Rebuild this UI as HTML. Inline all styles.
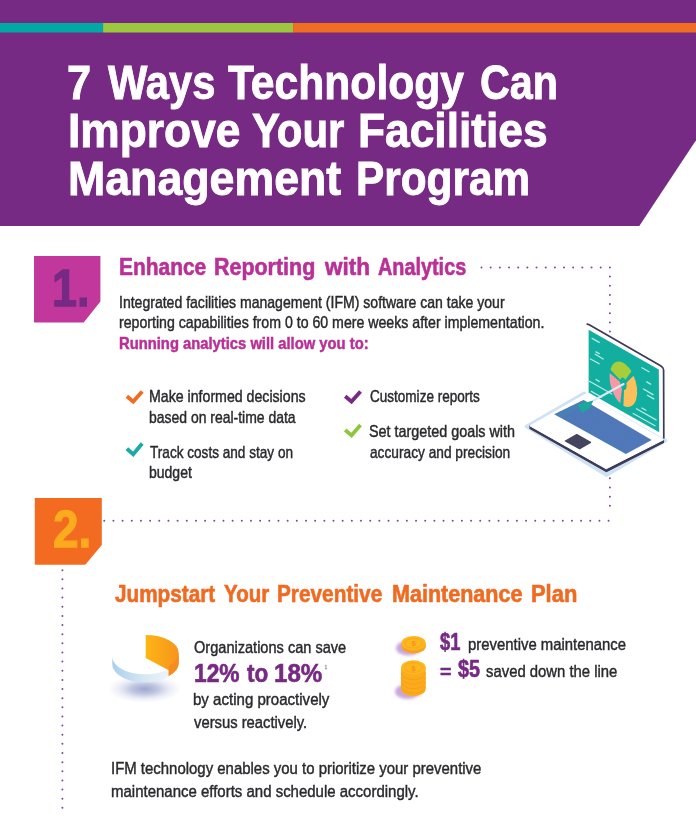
<!DOCTYPE html>
<html lang="en"><head><meta charset="utf-8"><title>7 Ways Technology Can Improve Your Facilities Management Program</title>
<style>
html,body{margin:0;padding:0;background:#fff}
body{width:696px;height:831px;position:relative;overflow:hidden;font-family:"Liberation Sans",sans-serif}
svg.art{position:absolute;left:0;top:0;width:696px;height:831px;display:block}
.t{position:absolute;white-space:nowrap;line-height:1;transform-origin:0 0;display:block}
</style></head><body>
<svg class="art" width="696" height="831" viewBox="0 0 696 831">
<defs>
<filter id="blur5" x="-50%" y="-50%" width="200%" height="200%"><feGaussianBlur stdDeviation="4"/></filter>
<filter id="blur2" x="-50%" y="-50%" width="200%" height="200%"><feGaussianBlur stdDeviation="1.6"/></filter>
<linearGradient id="gOr" x1="0" y1="0" x2="1" y2="0"><stop offset="0" stop-color="#fdb515"/><stop offset="1" stop-color="#f7941d"/></linearGradient>
<linearGradient id="gRim" x1="0" y1="0" x2="1" y2="0"><stop offset="0" stop-color="#a9d0ec"/><stop offset="0.55" stop-color="#d6e6f4"/><stop offset="1" stop-color="#eff4fa"/></linearGradient>
<linearGradient id="gCoin" x1="0" y1="0" x2="1" y2="0"><stop offset="0" stop-color="#fdb51c"/><stop offset="1" stop-color="#f9a51a"/></linearGradient>
<radialGradient id="gSh" cx="0.5" cy="0.5" r="0.5"><stop offset="0" stop-color="#5c6bb0" stop-opacity="0.6"/><stop offset="0.35" stop-color="#6675b6" stop-opacity="0.42"/><stop offset="0.7" stop-color="#7a88c2" stop-opacity="0.14"/><stop offset="1" stop-color="#8a96cc" stop-opacity="0"/></radialGradient>
</defs>
<!-- header -->
<polygon points="0,0 696,0 696,140.2 639.3,226 0,226" fill="#762a83"/>
<rect x="0" y="23" width="103.1" height="9.5" fill="#00a9a4"/>
<rect x="103.1" y="23" width="190" height="9.5" fill="#9bc83c"/>
<rect x="293.1" y="23" width="403" height="9.5" fill="#f06e21"/>
<!-- dotted connectors -->
<g fill="none" stroke="#86469a" stroke-width="2" stroke-linecap="round" stroke-dasharray="0 9.17">
<path d="M481.5,267.4 H609.9 V514"/>
<path d="M608.6,520.7 H104"/>
<path d="M62.4,570.2 V808.5" stroke-dasharray="0 9.14"/>
</g>
<!-- badges -->
<polygon points="34,256 100.4,256 100.4,301.4 83.7,322.4 34,322.4" fill="#c2379b"/>
<polygon points="34.8,498 101.8,498 101.8,545 85.3,564.8 34.8,564.8" fill="#f26b21"/>
<!-- checks -->
<g fill="none" stroke-width="3.8" stroke-linejoin="miter" stroke-miterlimit="6">
<polyline points="126.9,396.2 133.2,401.6 142.2,391.4" stroke="#f26b21"/>
<polyline points="126.9,448.8 133.2,454.2 142.2,443.6" stroke="#1aaba3"/>
<polyline points="345.2,396.2 351.5,401.6 360.5,391.4" stroke="#762a83"/>
<polyline points="345.2,430 351.5,435.4 360.5,425" stroke="#8cc63f"/>
</g>
<!-- LAPTOP -->
<g id="laptop">
<!-- base glow -->
<polygon points="526,426.5 584,393 666,440.5 606.5,475.5" fill="#cfe2f3" stroke="#cfe2f3" stroke-width="3" stroke-linejoin="round"/>
<!-- base dark edge -->
<polygon points="530,428.5 606.2,471.6 663.5,442.5 663.5,440 606.2,467 530,426" fill="#3b3a58" stroke="#3b3a58" stroke-width="1.2" stroke-linejoin="round"/>
<!-- base top -->
<polygon points="530,425.9 585,394.5 663.5,439.8 606.2,468.8" fill="#ffffff" stroke="#ffffff" stroke-width="1" stroke-linejoin="round"/>
<!-- keyboard -->
<polygon points="554.3,414.3 583.6,400 651.7,440 625.9,454.1" fill="#4c7ab8"/>
<g stroke="#7568c2" stroke-width="1.1" stroke-dasharray="2.2 2.4" fill="none" opacity="0.85">
<path d="M559.5,411.8 L631,451.4"/><path d="M564.7,409.3 L636.2,448.7"/><path d="M569.9,406.8 L641.4,446"/><path d="M575.1,404.3 L646.6,443.3"/><path d="M580.3,401.8 L650,440.8"/>
</g>
<polygon points="554.3,414.3 583.6,400 590,403.8 560.5,418" fill="#3f8bb0" opacity="0.35"/>
<!-- touchpad -->
<polygon points="565.4,441 576.8,434.6 590.5,442.4 579.6,448.7" fill="#45445f" stroke="#45445f" stroke-width="1.4" stroke-linejoin="round"/>
<!-- screen frame -->
<path d="M586,326 Q586,323.4 588.4,324.6 L661,365.9 Q663.6,367.4 663.6,370 L663.8,438.6 L586,394.6 Z" fill="#ffffff"/>
<path d="M586.6,324.4 Q587.6,323.8 588.8,324.6 L661,365.9 Q663.6,367.4 663.6,370 L663.8,438.6" fill="none" stroke="#3b3a58" stroke-width="1.7" stroke-linejoin="round"/>
<!-- screen -->
<polygon points="588.6,329.8 658.8,369.4 659.2,432.3 588.6,392.6" fill="#12afa0"/>
<!-- screen lines -->
<g stroke="#c9f0ea" stroke-width="1.3" stroke-linecap="round" opacity="0.9">
<path d="M592.1,338.4 L599.2,342.4"/><path d="M596,351.9 L599.2,353.6"/><path d="M595.3,354.3 L603.2,359"/><path d="M590.5,359 L599.2,363.8"/>
<path d="M596,379.5 L599.2,381.4"/><path d="M589.4,381.3 L612,394"/><path d="M591.3,391.4 L601.6,397.2"/>
<path d="M641.9,367.7 L649,371.7"/><path d="M646.7,381.9 L650.6,384.1"/><path d="M643.5,389 L653,394.6"/><path d="M647.4,395.3 L653.8,398.9"/>
<path d="M641.9,408 L645.9,410.2"/><path d="M636.4,408.8 L656.1,419.9"/><path d="M633.2,413.5 L655,425.8"/>
</g>
<!-- pie on screen -->
<g transform="matrix(1,0.565,0,1,623.4,384.2)">
<path d="M0,0 L-13.9,-6.9 A14.6,22.2 0 0 1 9.0,-17.5 Z" fill="#a7cd3a" stroke="#12afa0" stroke-width="1.6"/>
<path d="M0,0 L10.2,-15.9 A14.6,22.2 0 0 1 -0.8,22.2 Z" fill="#fbc05a" stroke="#12afa0" stroke-width="1.6"/>
<path d="M0,0 L-2.5,21.9 A14.6,22.2 0 0 1 -14.3,-4.6 Z" fill="#f59aa5" stroke="#12afa0" stroke-width="1.6"/>
<ellipse cx="0" cy="-0.5" rx="3.3" ry="6" fill="#12afa0"/>
</g>
<!-- pointer arrow -->
<path d="M623.6,384 L593.7,400.5" stroke="#dce9f8" stroke-width="2" stroke-linecap="round"/>
<polygon points="593.4,400.6 577.6,404.4 582.2,413.1 589.8,408" fill="#19a99b"/>
</g>
<!-- 3D PIE -->
<g id="pie3d">
<ellipse cx="144.5" cy="689" rx="37" ry="14" fill="url(#gSh)"/>
<path d="M112.3,656 A33,18 0 0 0 168.7,669 L168.7,677 A33,18 0 0 1 112.3,664 Z" fill="url(#gRim)"/>
<path d="M145.7,635 A33,18 0 0 1 178.7,653 L178.7,663 A33,18 0 0 1 168.7,675.9 L168.7,670.3 L145.7,658 Z" fill="url(#gOr)"/>
<path d="M178.7,653 L178.7,663 A33,18 0 0 1 168.7,675.9 L168.7,665.9 A33,18 0 0 0 178.7,653 Z" fill="#f68b1f"/>
</g>
<!-- COINS -->
<g id="coins">
<ellipse cx="408.5" cy="648" rx="12.5" ry="7.5" fill="#9a5fc0" opacity="0.55" filter="url(#blur2)"/>
<ellipse cx="413.7" cy="646.2" rx="12.1" ry="7.2" fill="#f8a21b"/>
<rect x="401.6" y="643.2" width="24.2" height="3" fill="#f8a21b"/>
<ellipse cx="413.7" cy="643.2" rx="12.1" ry="7.2" fill="#fdb71e"/>
<ellipse cx="413.7" cy="643.2" rx="8.6" ry="4.9" fill="none" stroke="#f9a71c" stroke-width="1"/>
<ellipse cx="407.5" cy="691.5" rx="12.5" ry="7.5" fill="#9a5fc0" opacity="0.55" filter="url(#blur2)"/>
<path d="M401.1,667.5 L401.1,689 A12.3,7.2 0 0 0 425.7,689 L425.7,667.5 Z" fill="#fbab1c"/>
<g fill="none" stroke="#f59a18" stroke-width="0.9" opacity="0.8">
<path d="M401.1,672.5 A12.3,7.2 0 0 0 425.7,672.5"/><path d="M401.1,677 A12.3,7.2 0 0 0 425.7,677"/><path d="M401.1,681.5 A12.3,7.2 0 0 0 425.7,681.5"/><path d="M401.1,686 A12.3,7.2 0 0 0 425.7,686"/>
</g>
<ellipse cx="413.4" cy="667.5" rx="12.3" ry="7.2" fill="#fdb71e"/>
<ellipse cx="413.4" cy="667.5" rx="8.7" ry="4.9" fill="none" stroke="#f9a71c" stroke-width="1"/>
<text x="413.7" y="646.3" font-family="Liberation Sans, sans-serif" font-weight="700" font-size="8" text-anchor="middle" fill="#f6921e">$</text>
<text x="413.4" y="670.6" font-family="Liberation Sans, sans-serif" font-weight="700" font-size="8" text-anchor="middle" fill="#f6921e">$</text>
</g>
</svg>

<span class="t" id="t0" style="left:66.72px;top:58.00px;font-size:48.6px;font-weight:700;color:#fff;-webkit-text-stroke:0.90px #fff;transform:scaleX(0.8920)">7</span>
<span class="t" id="t1" style="left:108.20px;top:58.00px;font-size:48.6px;font-weight:700;color:#fff;-webkit-text-stroke:0.90px #fff;transform:scaleX(0.8583)">Ways</span>
<span class="t" id="t2" style="left:227.80px;top:58.00px;font-size:48.6px;font-weight:700;color:#fff;-webkit-text-stroke:0.90px #fff;transform:scaleX(0.8771)">Technology</span>
<span class="t" id="t3" style="left:479.77px;top:58.00px;font-size:48.6px;font-weight:700;color:#fff;-webkit-text-stroke:0.90px #fff;transform:scaleX(0.8510)">Can</span>
<span class="t" id="t4" style="left:67.93px;top:106.00px;font-size:48.6px;font-weight:700;color:#fff;-webkit-text-stroke:0.90px #fff;transform:scaleX(0.9124)">Improve</span>
<span class="t" id="t5" style="left:251.58px;top:106.00px;font-size:48.6px;font-weight:700;color:#fff;-webkit-text-stroke:0.90px #fff;transform:scaleX(0.8629)">Your</span>
<span class="t" id="t6" style="left:357.76px;top:106.00px;font-size:48.6px;font-weight:700;color:#fff;-webkit-text-stroke:0.90px #fff;transform:scaleX(0.9120)">Facilities</span>
<span class="t" id="t7" style="left:67.96px;top:154.00px;font-size:48.6px;font-weight:700;color:#fff;-webkit-text-stroke:0.90px #fff;transform:scaleX(0.9199)">Management</span>
<span class="t" id="t8" style="left:355.93px;top:154.00px;font-size:48.6px;font-weight:700;color:#fff;-webkit-text-stroke:0.90px #fff;transform:scaleX(0.8713)">Program</span>
<span class="t" id="t9" style="left:51.72px;top:263.00px;font-size:51px;font-weight:700;color:#762a83;-webkit-text-stroke:1.30px #762a83;transform:scaleX(0.8826)">1.</span>
<span class="t" id="t10" style="left:52.88px;top:504.00px;font-size:51px;font-weight:700;color:#fbab1e;-webkit-text-stroke:1.30px #fbab1e;transform:scaleX(0.8997)">2.</span>
<span class="t" id="t11" style="left:119.38px;top:256.00px;font-size:23.4px;font-weight:700;color:#b93096;-webkit-text-stroke:0.60px #b93096;transform:scaleX(0.8947)">Enhance</span>
<span class="t" id="t12" style="left:214.19px;top:256.00px;font-size:23.4px;font-weight:700;color:#b93096;-webkit-text-stroke:0.60px #b93096;transform:scaleX(0.9167)">Reporting</span>
<span class="t" id="t13" style="left:324.60px;top:256.00px;font-size:23.4px;font-weight:700;color:#b93096;-webkit-text-stroke:0.60px #b93096;transform:scaleX(0.9624)">with</span>
<span class="t" id="t14" style="left:377.60px;top:256.00px;font-size:23.4px;font-weight:700;color:#b93096;-webkit-text-stroke:0.60px #b93096;transform:scaleX(0.8480)">Analytics</span>
<span class="t" id="t15" style="left:118.60px;top:294.00px;font-size:16.4px;font-weight:400;color:#2a2a2e;-webkit-text-stroke:0.44px #2a2a2e;transform:scaleX(0.8568)">Integrated facilities management (IFM) software can take your</span>
<span class="t" id="t16" style="left:118.59px;top:314.00px;font-size:16.4px;font-weight:400;color:#2a2a2e;-webkit-text-stroke:0.44px #2a2a2e;transform:scaleX(0.8631)">reporting capabilities from 0 to 60 mere weeks after implementation.</span>
<span class="t" id="t17" style="left:118.59px;top:335.00px;font-size:16.4px;font-weight:700;color:#b93096;-webkit-text-stroke:0.48px #b93096;transform:scaleX(0.9016)">Running analytics will allow you to:</span>
<span class="t" id="t18" style="left:149.20px;top:388.00px;font-size:16.4px;font-weight:400;color:#2a2a2e;-webkit-text-stroke:0.44px #2a2a2e;transform:scaleX(0.8638)">Make informed decisions</span>
<span class="t" id="t19" style="left:149.20px;top:409.00px;font-size:16.4px;font-weight:400;color:#2a2a2e;-webkit-text-stroke:0.44px #2a2a2e;transform:scaleX(0.8513)">based on real-time data</span>
<span class="t" id="t20" style="left:150.20px;top:444.00px;font-size:16.4px;font-weight:400;color:#2a2a2e;-webkit-text-stroke:0.44px #2a2a2e;transform:scaleX(0.8291)">Track costs and stay on</span>
<span class="t" id="t21" style="left:149.20px;top:464.00px;font-size:16.4px;font-weight:400;color:#2a2a2e;-webkit-text-stroke:0.44px #2a2a2e;transform:scaleX(0.8542)">budget</span>
<span class="t" id="t22" style="left:370.20px;top:388.00px;font-size:16.4px;font-weight:400;color:#2a2a2e;-webkit-text-stroke:0.44px #2a2a2e;transform:scaleX(0.8256)">Customize reports</span>
<span class="t" id="t23" style="left:369.19px;top:423.00px;font-size:16.4px;font-weight:400;color:#2a2a2e;-webkit-text-stroke:0.44px #2a2a2e;transform:scaleX(0.8757)">Set targeted goals with</span>
<span class="t" id="t24" style="left:370.20px;top:444.00px;font-size:16.4px;font-weight:400;color:#2a2a2e;-webkit-text-stroke:0.44px #2a2a2e;transform:scaleX(0.8363)">accuracy and precision</span>
<span class="t" id="t25" style="left:114.60px;top:583.00px;font-size:23.4px;font-weight:700;color:#f06a22;-webkit-text-stroke:0.60px #f06a22;transform:scaleX(0.8860)">Jumpstart</span>
<span class="t" id="t26" style="left:224.21px;top:583.00px;font-size:23.4px;font-weight:700;color:#f06a22;-webkit-text-stroke:0.60px #f06a22;transform:scaleX(0.8771)">Your</span>
<span class="t" id="t27" style="left:277.19px;top:583.00px;font-size:23.4px;font-weight:700;color:#f06a22;-webkit-text-stroke:0.60px #f06a22;transform:scaleX(0.8893)">Preventive</span>
<span class="t" id="t28" style="left:391.59px;top:583.00px;font-size:23.4px;font-weight:700;color:#f06a22;-webkit-text-stroke:0.60px #f06a22;transform:scaleX(0.9205)">Maintenance</span>
<span class="t" id="t29" style="left:530.56px;top:583.00px;font-size:23.4px;font-weight:700;color:#f06a22;-webkit-text-stroke:0.60px #f06a22;transform:scaleX(0.9374)">Plan</span>
<span class="t" id="t30" style="left:193.80px;top:639.00px;font-size:17.2px;font-weight:400;color:#2a2a2e;-webkit-text-stroke:0.44px #2a2a2e;transform:scaleX(0.8473)">Organizations can save</span>
<span class="t" id="t31" style="left:194.19px;top:660.00px;font-size:26px;font-weight:700;color:#762a83;-webkit-text-stroke:0.64px #762a83;transform:scaleX(0.8764)">12%</span>
<span class="t" id="t32" style="left:247.20px;top:660.00px;font-size:26px;font-weight:700;color:#762a83;-webkit-text-stroke:0.64px #762a83;transform:scaleX(0.8648)">to</span>
<span class="t" id="t33" style="left:274.19px;top:660.00px;font-size:26px;font-weight:700;color:#762a83;-webkit-text-stroke:0.64px #762a83;transform:scaleX(0.9267)">18%</span>
<span class="t" id="t34" style="left:325.00px;top:666.00px;font-size:4.5px;font-weight:400;color:#a890b4;-webkit-text-stroke:0.44px #a890b4;transform:scaleX(0.7635)">1</span>
<span class="t" id="t35" style="left:192.79px;top:691.00px;font-size:17.2px;font-weight:400;color:#2a2a2e;-webkit-text-stroke:0.44px #2a2a2e;transform:scaleX(0.8759)">by acting proactively</span>
<span class="t" id="t36" style="left:193.80px;top:714.00px;font-size:17.2px;font-weight:400;color:#2a2a2e;-webkit-text-stroke:0.44px #2a2a2e;transform:scaleX(0.8609)">versus reactively.</span>
<span class="t" id="t37" style="left:439.60px;top:630.00px;font-size:24px;font-weight:700;color:#762a83;-webkit-text-stroke:0.61px #762a83;transform:scaleX(0.7641)">$1</span>
<span class="t" id="t38" style="left:468.39px;top:636.00px;font-size:17.2px;font-weight:400;color:#2a2a2e;-webkit-text-stroke:0.44px #2a2a2e;transform:scaleX(0.8658)">preventive maintenance</span>
<span class="t" id="t39" style="left:440.20px;top:663.00px;font-size:18px;font-weight:700;color:#762a83;-webkit-text-stroke:0.55px #762a83;transform:scaleX(1.0846)">=</span>
<span class="t" id="t40" style="left:457.60px;top:657.00px;font-size:24px;font-weight:700;color:#762a83;-webkit-text-stroke:0.61px #762a83;transform:scaleX(0.8248)">$5</span>
<span class="t" id="t41" style="left:485.60px;top:663.00px;font-size:17.2px;font-weight:400;color:#2a2a2e;-webkit-text-stroke:0.44px #2a2a2e;transform:scaleX(0.8648)">saved down the line</span>
<span class="t" id="t42" style="left:110.60px;top:760.00px;font-size:17.2px;font-weight:400;color:#2a2a2e;-webkit-text-stroke:0.44px #2a2a2e;transform:scaleX(0.8693)">IFM technology enables you to prioritize your preventive</span>
<span class="t" id="t43" style="left:110.59px;top:783.00px;font-size:17.2px;font-weight:400;color:#2a2a2e;-webkit-text-stroke:0.44px #2a2a2e;transform:scaleX(0.8717)">maintenance efforts and schedule accordingly.</span>

</body></html>
